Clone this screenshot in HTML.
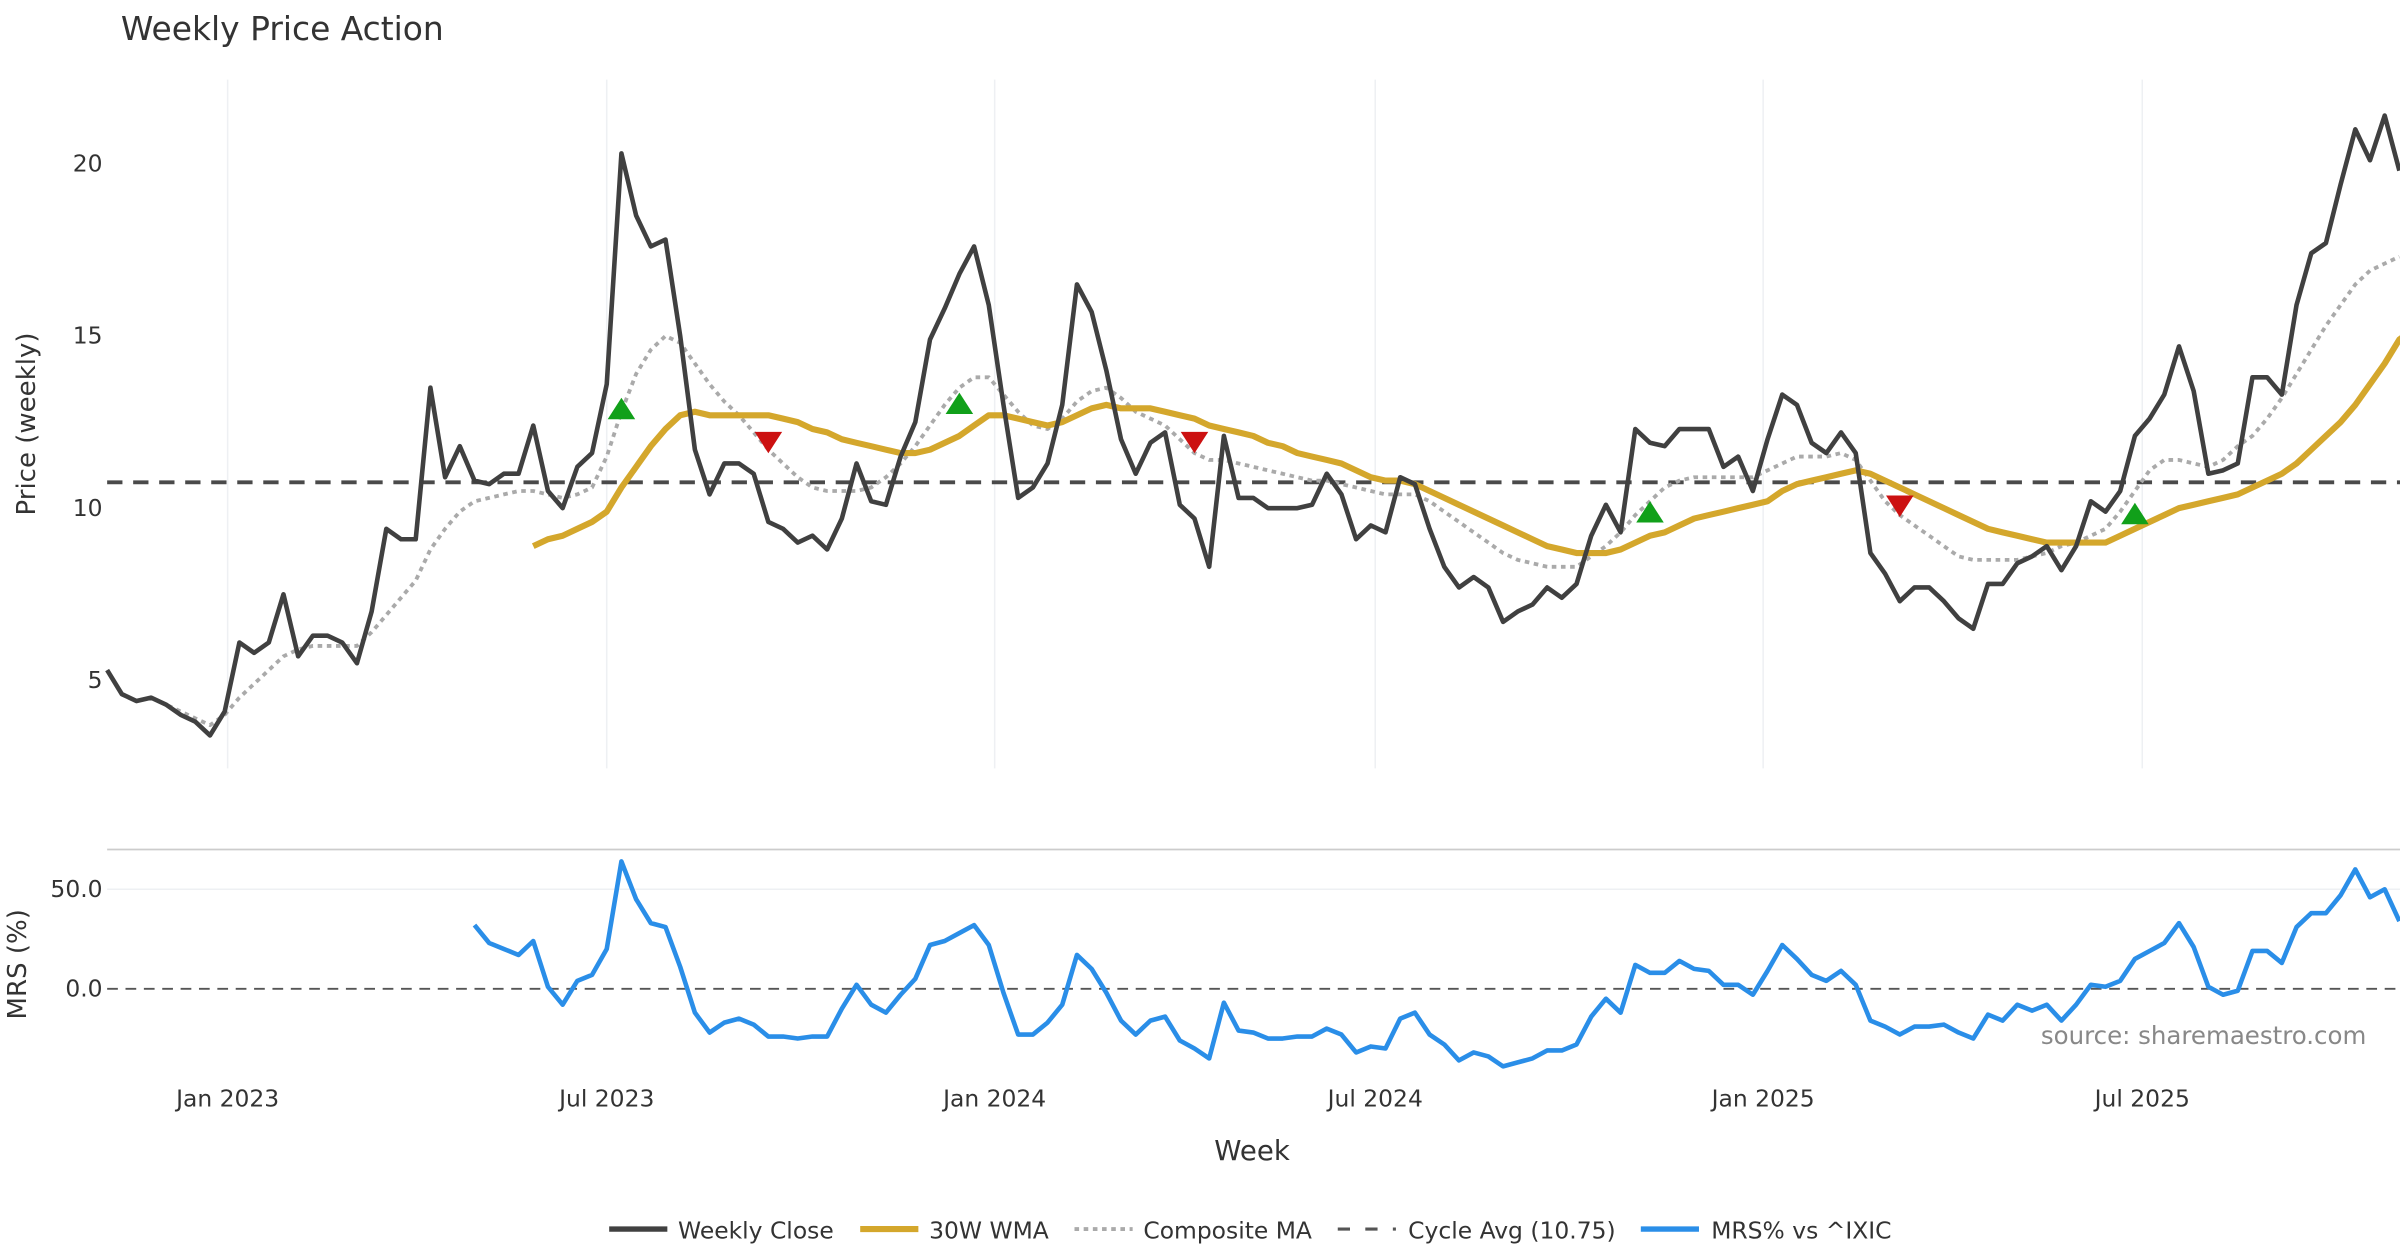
<!DOCTYPE html>
<html><head><meta charset="utf-8"><style>
html,body{margin:0;padding:0;background:#fff;}
svg{display:block;font-family:"DejaVu Sans","Liberation Sans",sans-serif;}
</style></head><body>
<svg id="chart" width="2400" height="1260" viewBox="0 0 1568 823.2" preserveAspectRatio="none" xmlns="http://www.w3.org/2000/svg">
<g id="grid"></g>
<text x="79" y="26" font-size="21.5" fill="#333">Weekly Price Action</text>
<text transform="translate(23,277) rotate(-90)" text-anchor="middle" font-size="17" fill="#333">Price (weekly)</text>
<text transform="translate(17,630) rotate(-90)" text-anchor="middle" font-size="17" fill="#333">MRS (%)</text>
<text x="818" y="758" text-anchor="middle" font-size="18" fill="#333">Week</text>
<text x="1546" y="682" text-anchor="end" font-size="16" fill="#888">source: sharemaestro.com</text>
<g id="ticks"></g>
<g id="marks"></g>
<g id="legend" font-size="15.3" fill="#333">
  <g><line x1="398" y1="803" x2="436" y2="803" stroke="#404040" stroke-width="3.5"/><text x="443" y="809">Weekly Close</text></g>
  <g><line x1="562" y1="803" x2="600" y2="803" stroke="#d4a72c" stroke-width="4"/><text x="607" y="809">30W WMA</text></g>
  <g><line x1="702" y1="803" x2="740" y2="803" stroke="#aaa" stroke-width="2.5" stroke-dasharray="3,3"/><text x="747" y="809">Composite MA</text></g>
  <g><line x1="874" y1="803" x2="912" y2="803" stroke="#555" stroke-width="2" stroke-dasharray="8,10"/><text x="920" y="809">Cycle Avg (10.75)</text></g>
  <g><line x1="1072" y1="803" x2="1110" y2="803" stroke="#2a8ee8" stroke-width="3.5"/><text x="1118" y="809">MRS% vs ^IXIC</text></g>
</g>
</svg>
<script>
const closeVals=[5.3,4.6,4.4,4.5,4.3,4.0,3.8,3.4,4.1,6.1,5.8,6.1,7.5,5.7,6.3,6.3,6.1,5.5,7.0,9.4,9.1,9.1,13.5,10.9,11.8,10.8,10.7,11.0,11.0,12.4,10.5,10.0,11.2,11.6,13.6,20.3,18.5,17.6,17.8,15.0,11.7,10.4,11.3,11.3,11.0,9.6,9.4,9.0,9.2,8.8,9.7,11.3,10.2,10.1,11.5,12.5,14.9,15.8,16.8,17.6,15.9,13.0,10.3,10.6,11.3,13.0,16.5,15.7,14.0,12.0,11.0,11.9,12.2,10.1,9.7,8.3,12.1,10.3,10.3,10.0,10.0,10.0,10.1,11.0,10.4,9.1,9.5,9.3,10.9,10.7,9.4,8.3,7.7,8.0,7.7,6.7,7.0,7.2,7.7,7.4,7.8,9.2,10.1,9.3,12.3,11.9,11.8,12.3,12.3,12.3,11.2,11.5,10.5,12.0,13.3,13.0,11.9,11.6,12.2,11.6,8.7,8.1,7.3,7.7,7.7,7.3,6.8,6.5,7.8,7.8,8.4,8.6,8.9,8.2,8.9,10.2,9.9,10.5,12.1,12.6,13.3,14.7,13.4,11.0,11.1,11.3,13.8,13.8,13.3,15.9,17.4,17.7,19.4,21.0,20.1,21.4,19.8];
const wmaStart=29;
const wmaVals=[8.9,9.1,9.2,9.4,9.6,9.9,10.6,11.2,11.8,12.3,12.7,12.8,12.7,12.7,12.7,12.7,12.7,12.6,12.5,12.3,12.2,12.0,11.9,11.8,11.7,11.6,11.6,11.7,11.9,12.1,12.4,12.7,12.7,12.6,12.5,12.4,12.5,12.7,12.9,13.0,12.9,12.9,12.9,12.8,12.7,12.6,12.4,12.3,12.2,12.1,11.9,11.8,11.6,11.5,11.4,11.3,11.1,10.9,10.8,10.8,10.7,10.5,10.3,10.1,9.9,9.7,9.5,9.3,9.1,8.9,8.8,8.7,8.7,8.7,8.8,9.0,9.2,9.3,9.5,9.7,9.8,9.9,10.0,10.1,10.2,10.5,10.7,10.8,10.9,11.0,11.1,11.0,10.8,10.6,10.4,10.2,10.0,9.8,9.6,9.4,9.3,9.2,9.1,9.0,9.0,9.0,9.0,9.0,9.2,9.4,9.6,9.8,10.0,10.1,10.2,10.3,10.4,10.6,10.8,11.0,11.3,11.7,12.1,12.5,13.0,13.6,14.2,14.9,15.2];
const compStart=3;
const compVals=[4.5,4.3,4.1,3.9,3.7,4.0,4.5,4.9,5.3,5.7,5.9,6.0,6.0,6.0,6.0,6.4,6.9,7.4,7.9,8.8,9.4,9.9,10.2,10.3,10.4,10.5,10.5,10.4,10.3,10.4,10.6,11.5,12.8,13.9,14.6,15.0,14.8,14.2,13.6,13.1,12.7,12.2,11.7,11.3,10.9,10.6,10.5,10.5,10.5,10.6,10.9,11.3,11.8,12.4,13.0,13.5,13.8,13.8,13.3,12.8,12.4,12.3,12.6,13.1,13.4,13.5,13.2,12.8,12.6,12.4,12.0,11.6,11.4,11.4,11.3,11.2,11.1,11.0,10.9,10.8,10.8,10.7,10.6,10.5,10.4,10.4,10.4,10.2,9.9,9.6,9.3,9.0,8.7,8.5,8.4,8.3,8.3,8.3,8.6,8.9,9.3,9.8,10.2,10.6,10.8,10.9,10.9,10.9,10.9,10.9,11.1,11.3,11.5,11.5,11.5,11.6,11.4,10.8,10.2,9.8,9.5,9.2,8.9,8.6,8.5,8.5,8.5,8.5,8.6,8.7,8.9,9.0,9.2,9.4,9.9,10.5,11.1,11.4,11.4,11.3,11.2,11.4,11.8,12.1,12.6,13.2,13.9,14.6,15.3,15.9,16.5,16.9,17.1,17.3];
const mrsStart=25;
const mrsVals=[32,23,20,17,24,1,-8,4,7,20,64,45,33,31,11,-12,-22,-17,-15,-18,-24,-24,-25,-24,-24,-10,2,-8,-12,-3,5,22,24,28,32,22,-2,-23,-23,-17,-8,17,10,-2,-16,-23,-16,-14,-26,-30,-35,-7,-21,-22,-25,-25,-24,-24,-20,-23,-32,-29,-30,-15,-12,-23,-28,-36,-32,-34,-39,-37,-35,-31,-31,-28,-14,-5,-12,12,8,8,14,10,9,2,2,-3,9,22,15,7,4,9,2,-16,-19,-23,-19,-19,-18,-22,-25,-13,-16,-8,-11,-8,-16,-8,2,1,4,15,19,23,33,21,1,-3,-1,19,19,13,31,38,38,47,60,46,50,34];
const cycleAvg=10.75;
const buyIdx=[35,58,105,138];
const buyVals=[12.85,13.0,9.85,9.8];
const sellIdx=[45,74,122];
const sellVals=[11.95,11.95,10.1];
const priceTicks=[5,10,15,20];
const mrsTicks=[0,50];
const dateLabels=["Jan 2023","Jul 2023","Jan 2024","Jul 2024","Jan 2025","Jul 2025"];
const dateIdx=[8.2,34.0,60.4,86.3,112.7,138.5];

const NS="http://www.w3.org/2000/svg";
const X0=70, DX=9.6;
const xs=i=>X0+i*DX;
const yP=v=>332-(v-10)*22.5;
const yM=v=>646-v*1.3;
function mk(tag,attrs,parent){const e=document.createElementNS(NS,tag);for(const k in attrs)e.setAttribute(k,attrs[k]);parent.appendChild(e);return e;}
const grid=document.getElementById('grid'), ticks=document.getElementById('ticks'), marks=document.getElementById('marks');

dateIdx.forEach((d,k)=>{
  const x=xs(d);
  const g=mk('line',{x1:x,x2:x,y1:52,y2:502,stroke:'#eef0f3','stroke-width':1},grid);
  
  
  const t=mk('text',{x:x,y:723,'text-anchor':'middle','font-size':15.3,fill:'#333'},ticks);
  t.textContent=dateLabels[k];
  
  
});
const sep=mk('line',{x1:70,x2:1568,y1:555,y2:555,stroke:'#ccc','stroke-width':1.2},grid);


priceTicks.forEach(v=>{
  const t=mk('text',{x:67,y:yP(v)+5,'text-anchor':'end','font-size':15.3,fill:'#333'},ticks);
  t.textContent=v;
  
  
});
mrsTicks.forEach(v=>{
  const t=mk('text',{x:67,y:yM(v)+5,'text-anchor':'end','font-size':15.3,fill:'#333'},ticks);
  t.textContent=v.toFixed(1);
  
  
  if(v!==0){const gl=mk('line',{x1:70,x2:1568,y1:yM(v),y2:yM(v),stroke:'#eef0f3','stroke-width':1},grid);
  
  }
});
const zl=mk('line',{x1:70,x2:1568,y1:yM(0),y2:yM(0),stroke:'#555','stroke-width':1.2,'stroke-dasharray':'7,5'},marks);


const cl=mk('line',{x1:70,x2:1568,y1:yP(cycleAvg),y2:yP(cycleAvg),stroke:'#4a4a4a','stroke-width':2.5,'stroke-dasharray':'10,7'},marks);



function poly(vals,start,yf,attrs,name){
  const pts=vals.map((v,i)=>xs(start+i).toFixed(1)+','+yf(v).toFixed(1)).join(' ');
  const p=mk('polyline',Object.assign({points:pts,fill:'none','stroke-linejoin':'round'},attrs),marks);
  
  
}
poly(compVals,compStart,yP,{stroke:'#aaa','stroke-width':2.5,'stroke-dasharray':'3,3'},'composite-ma-line');
poly(wmaVals,wmaStart,yP,{stroke:'#d4a72c','stroke-width':4},'wma-line');
poly(closeVals,0,yP,{stroke:'#404040','stroke-width':3},'weekly-close-line');
poly(mrsVals,mrsStart,yM,{stroke:'#2a8ee8','stroke-width':3},'mrs-line');

buyIdx.forEach((ix,k)=>{
  const x=xs(ix), y=yP(buyVals[k]);
  const t=mk('polygon',{points:`${x-9},${y+6} ${x+9},${y+6} ${x},${y-8}`,fill:'#11a01a'},marks);
  
  
});
sellIdx.forEach((ix,k)=>{
  const x=xs(ix), y=yP(sellVals[k]);
  const t=mk('polygon',{points:`${x-9},${y-6} ${x+9},${y-6} ${x},${y+8}`,fill:'#cc1111'},marks);
  
  
});
</script>
</body></html>
